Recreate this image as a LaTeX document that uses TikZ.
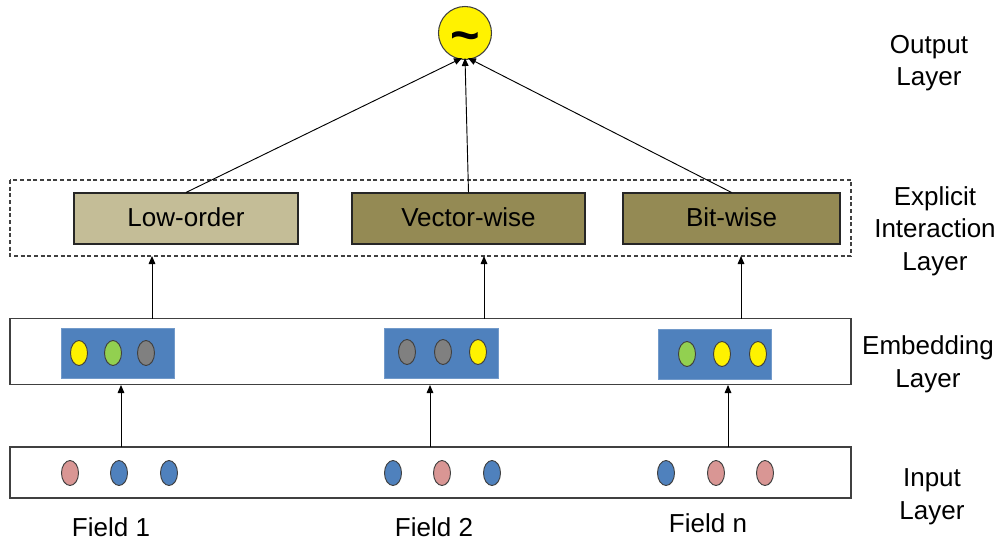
\documentclass[tikz,border=0pt]{standalone}
\usepackage{fontspec}
\setmainfont{Liberation Sans}
\usetikzlibrary{arrows.meta,shapes.geometric}
\definecolor{beige}{HTML}{C4BD97}
\definecolor{olive}{HTML}{948A54}
\definecolor{embblue}{HTML}{4F81BD}
\definecolor{pinkdot}{HTML}{D99694}
\definecolor{bluedot}{HTML}{4F81BD}
\definecolor{greendot}{HTML}{92D050}
\definecolor{graydot}{HTML}{808080}
\definecolor{edge}{HTML}{404040}
\tikzset{
  lbl/.style={font=\fontsize{19.5pt}{24.5pt}\selectfont, align=center, inner sep=0pt},
  layerbox/.style={draw=edge, line width=0.8pt, fill=white},
  opbox/.style={draw=black!85, line width=0.8pt, minimum height=38.25pt, font=\fontsize{19.5pt}{22pt}\selectfont},
  dot/.style={ellipse, draw=edge, line width=0.7pt, minimum width=12.75pt, minimum height=18.75pt, inner sep=0pt},
  emb/.style={fill=embblue, draw=embblue!80, line width=0.4pt},
  conn/.style={line width=0.7pt, -{Triangle[length=6pt,width=5pt]}},
}
\begin{document}
\begin{tikzpicture}[x=0.75pt,y=-0.75pt]
\useasboundingbox (0,0) rectangle (999,542);

% layer frames
\draw[draw=edge, line width=0.8pt, dash pattern=on 3pt off 2pt] (10,180) rectangle (851,256);
\coordinate (dashS1) at (152,256);
\coordinate (dashS2) at (484,256);
\coordinate (dashS3) at (741,256);
\node[layerbox, minimum width=630.75pt, minimum height=49.5pt, inner sep=0pt] (embL) at (430.5,351.5) {};
\node[layerbox, minimum width=630.75pt, minimum height=38.25pt, inner sep=0pt] (inL) at (430.5,472.5) {};

% output unit
\node[circle, draw=edge, fill=yellow, line width=0.8pt, minimum size=39.75pt, inner sep=0pt] (out) at (465,33) {};
\node[inner sep=0pt, font=\fontsize{38pt}{38pt}\selectfont\bfseries] (tilde) at (465,42) {\symbol{126}};

% interaction operators
\node[opbox, fill=beige, minimum width=168pt] (low) at (186,218.5) {\raisebox{1.5pt}{Low-order}};
\node[opbox, fill=olive, minimum width=174.75pt] (vec) at (468.5,218.5) {\raisebox{1.5pt}{Vector-wise}};
\node[opbox, fill=olive, minimum width=162.75pt] (bit) at (731.5,218.5) {\raisebox{1.5pt}{Bit-wise}};

\draw[conn] (low.north) -- (462,58);
\draw[conn] (vec.north) -- (465,58);
\draw[conn] (bit.north) -- (468,58);

% embedding blocks
\node[emb, minimum width=84.75pt, minimum height=37.5pt, inner sep=0pt] (e1) at (117.5,353) {};
\node[emb, minimum width=85.5pt, minimum height=37.5pt, inner sep=0pt] (e2) at (441,353) {};
\node[emb, minimum width=84.75pt, minimum height=37.5pt, inner sep=0pt] (e3) at (714.5,354) {};

\node[dot, fill=yellow] (e1a) at (79,353) {};
\node[dot, fill=greendot] (e1b) at (113,353) {};
\node[dot, fill=graydot] (e1c) at (146,353) {};
\node[dot, fill=graydot] (e2a) at (407,352) {};
\node[dot, fill=graydot] (e2b) at (443,352) {};
\node[dot, fill=yellow] (e2c) at (478,352) {};
\node[dot, fill=greendot] (e3a) at (687,354) {};
\node[dot, fill=yellow] (e3b) at (722,354) {};
\node[dot, fill=yellow] (e3c) at (758,354) {};

\draw[conn] (152,318.5) coordinate (emb1T) -- (dashS1);
\draw[conn] (484,318.5) coordinate (emb2T) -- (dashS2);
\draw[conn] (741,318.5) coordinate (emb3T) -- (dashS3);

% input fields
\node[dot, fill=pinkdot] (i1a) at (70,473) {};
\node[dot, fill=bluedot] (i1b) at (119,473) {};
\node[dot, fill=bluedot] (i1c) at (169,473) {};
\node[dot, fill=bluedot] (i2a) at (393,473) {};
\node[dot, fill=pinkdot] (i2b) at (442,473) {};
\node[dot, fill=bluedot] (i2c) at (492,473) {};
\node[dot, fill=bluedot] (i3a) at (666,473) {};
\node[dot, fill=pinkdot] (i3b) at (716,473) {};
\node[dot, fill=pinkdot] (i3c) at (765,473) {};

\coordinate (in1T) at (121,447);
\coordinate (in2T) at (430,447);
\coordinate (in3T) at (728,447);
\draw[conn] (in1T) -- (121,385);
\draw[conn] (in2T) -- (430,385);
\draw[conn] (in3T) -- (728,385);

% field labels
\node[lbl] (f1) at (111,527) {Field 1};
\node[lbl] (f2) at (434,527) {Field 2};
\node[lbl] (fn) at (708,523) {Field n};

% layer names
\node[lbl] (tOut) at (929,63) {Output\\Layer};
\node[lbl] (tInt) at (935,231) {Explicit\\Interaction\\Layer};
\node[lbl] (tEmb) at (928,364) {Embedding\\Layer};
\node[lbl] (tIn) at (932,497) {Input\\Layer};
\end{tikzpicture}
\end{document}
